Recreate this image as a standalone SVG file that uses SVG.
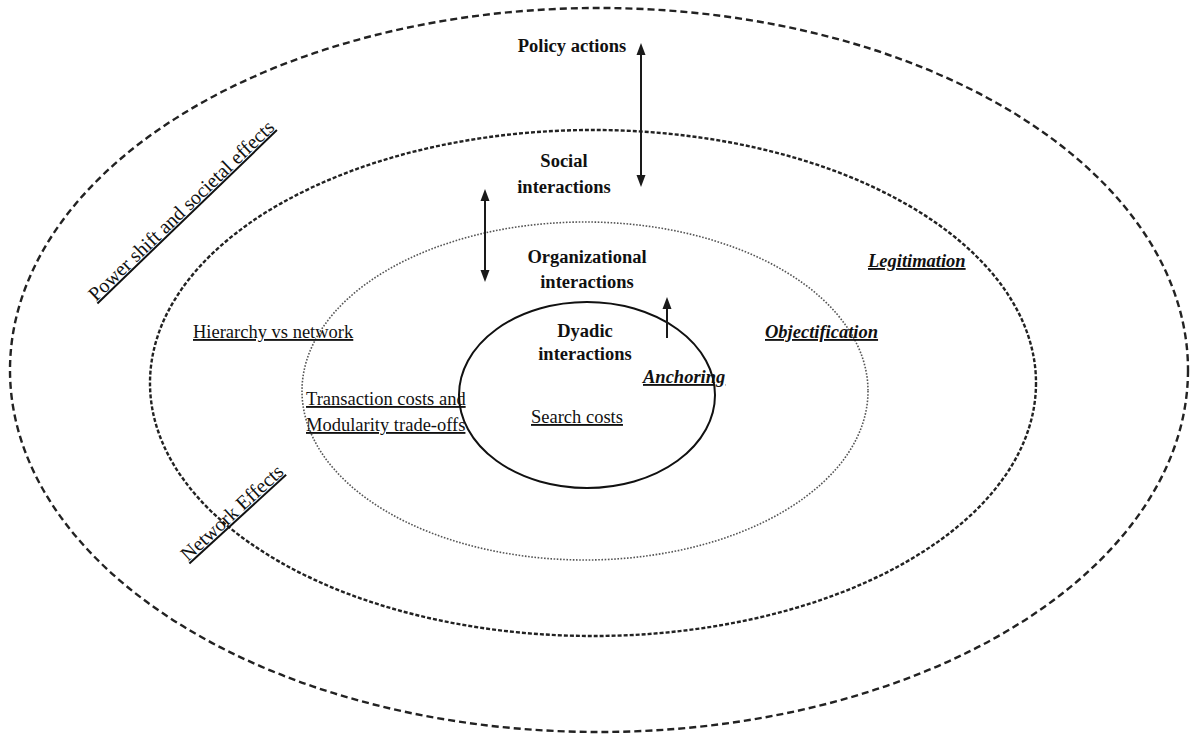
<svg xmlns="http://www.w3.org/2000/svg" width="1191" height="740" viewBox="0 0 1191 740">
<defs>
<marker id="ah" markerUnits="userSpaceOnUse" markerWidth="12" markerHeight="10" refX="0" refY="4.5" orient="auto-start-reverse" viewBox="0 0 12 9">
<path d="M0,0 L12,4.5 L0,9 z" fill="#1a1a1a"/>
</marker>
</defs>
<style>
.t{font-family:"Liberation Serif","Times New Roman",serif;font-size:18.5px;fill:#111}
.b{font-weight:bold}
.bi{font-weight:bold;font-style:italic;text-decoration:underline}
.u{text-decoration:underline}
.m{text-anchor:middle}
.rot{font-size:20px}
.outer{fill:none;stroke:#222;stroke-width:2.4;stroke-dasharray:7 4}
.social{fill:none;stroke:#222;stroke-width:2.4;stroke-dasharray:4 2}
.org{fill:none;stroke:#555;stroke-width:1.6;stroke-dasharray:1.6 1.6}
.dyad{fill:none;stroke:#111;stroke-width:2}
.arr{stroke:#1a1a1a;stroke-width:2;fill:none}
</style>
<rect width="1191" height="740" fill="#fff"/>
<g id="policy">
<ellipse class="outer" cx="599" cy="370" rx="589" ry="362"/>
<text class="t b m" x="572" y="52">Policy actions</text>
</g>
<g id="social">
<ellipse class="social" cx="593" cy="383" rx="443" ry="253"/>
<text class="t b m" x="564" y="167">Social</text>
<text class="t b m" x="564" y="193">interactions</text>
</g>
<g id="organizational">
<ellipse class="org" cx="585" cy="391" rx="283" ry="169"/>
<text class="t b m" x="587" y="263">Organizational</text>
<text class="t b m" x="587" y="288">interactions</text>
</g>
<g id="dyadic">
<ellipse class="dyad" cx="587" cy="395" rx="128" ry="93"/>
<text class="t b m" x="585" y="337">Dyadic</text>
<text class="t b m" x="585" y="360">interactions</text>
</g>
<g id="label-power-shift">
<text class="t u rot" transform="translate(96,302) rotate(-44)">Power shift and societal effects</text>
</g>
<g id="label-network-effects">
<text class="t u rot" transform="translate(188,562) rotate(-42.5)">Network Effects</text>
</g>
<g id="label-hierarchy">
<text class="t u" x="193" y="338">Hierarchy vs network</text>
</g>
<g id="label-transaction">
<text class="t u" x="306" y="405">Transaction costs and</text>
<text class="t u" x="306" y="431">Modularity trade-offs</text>
</g>
<g id="label-search">
<text class="t u" x="531" y="423">Search costs</text>
</g>
<g id="label-anchoring">
<text class="t bi" x="643" y="383">Anchoring</text>
</g>
<g id="label-objectification">
<text class="t bi" x="765" y="338">Objectification</text>
</g>
<g id="label-legitimation">
<text class="t bi" x="868" y="267">Legitimation</text>
</g>
<g id="connectors">
<line class="arr" x1="641" y1="55" x2="641" y2="175" marker-start="url(#ah)" marker-end="url(#ah)"/>
<line class="arr" x1="485" y1="201" x2="485" y2="270" marker-start="url(#ah)" marker-end="url(#ah)"/>
<line class="arr" x1="667" y1="338" x2="667" y2="309" marker-end="url(#ah)"/>
</g>
</svg>
